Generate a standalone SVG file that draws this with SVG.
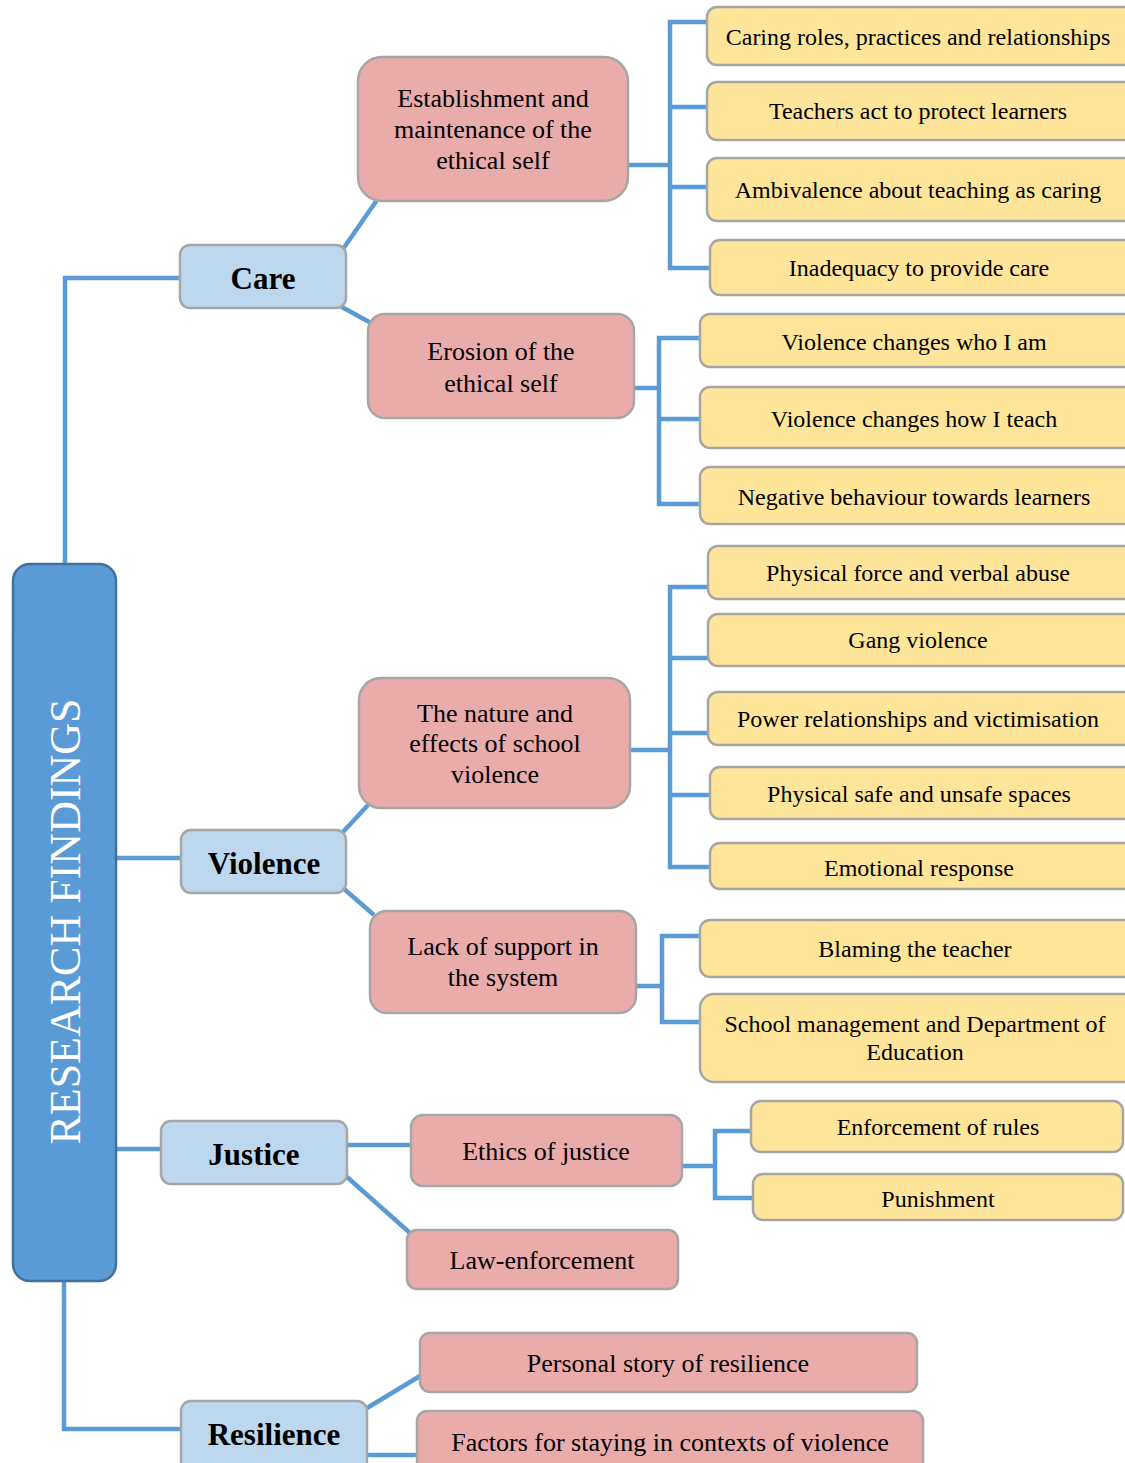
<svg xmlns="http://www.w3.org/2000/svg" width="1125" height="1463" viewBox="0 0 1125 1463">
<style>
.c{fill:none;stroke:#5B9BD5;stroke-width:4.5;stroke-linejoin:miter}
.root{fill:#5B9BD5;stroke:#41719C;stroke-width:2.5}
.cat{fill:#BDD7EE;stroke:#A6A6A6;stroke-width:2.5}
.pk{fill:#EAABAB;stroke:#A6A6A6;stroke-width:2.5}
.lf{fill:#FFE599;stroke:#A6A6A6;stroke-width:2.5}
text{font-family:"Liberation Serif","Times New Roman",serif;fill:#000;text-anchor:middle}
.rt{font-size:44px;fill:#FFFFFF}
.ct{font-size:31px;font-weight:bold}
.pt{font-size:26px}
.lt{font-size:24px}
</style>
<rect width="1125" height="1463" fill="#FFFFFF"/>
<g id="connectors">
<polyline class="c" points="65,566 65,278 180,278"/>
<polyline class="c" points="116,858 181,858"/>
<polyline class="c" points="116,1149 161,1149"/>
<polyline class="c" points="64,1279 64,1429 181,1429"/>
<line class="c" x1="343" y1="249" x2="377" y2="200"/>
<line class="c" x1="340" y1="306" x2="371" y2="323"/>
<line class="c" x1="343" y1="832" x2="368" y2="805"/>
<line class="c" x1="343" y1="888" x2="374" y2="915"/>
<line class="c" x1="347" y1="1145" x2="411" y2="1145"/>
<line class="c" x1="347" y1="1177" x2="410" y2="1233"/>
<line class="c" x1="367" y1="1408" x2="420" y2="1376"/>
<line class="c" x1="367" y1="1455" x2="418" y2="1455"/>
<polyline class="c" points="628,165 670,165"/>
<polyline class="c" points="708,22 670,22 670,268 710,268"/>
<polyline class="c" points="670,107 708,107"/>
<polyline class="c" points="670,187 708,187"/>
<polyline class="c" points="634,388 659,388"/>
<polyline class="c" points="700,338 659,338 659,504 700,504"/>
<polyline class="c" points="659,419 700,419"/>
<polyline class="c" points="630,750 670,750"/>
<polyline class="c" points="708,587 670,587 670,867 710,867"/>
<polyline class="c" points="670,658 708,658"/>
<polyline class="c" points="670,733 708,733"/>
<polyline class="c" points="670,795 710,795"/>
<polyline class="c" points="636,986 662,986"/>
<polyline class="c" points="700,936 662,936 662,1022 700,1022"/>
<polyline class="c" points="682,1166 715,1166"/>
<polyline class="c" points="751,1131 715,1131 715,1198 753,1198"/>
</g>
<g id="root">
<rect class="root" x="13" y="564" width="103" height="717" rx="17"/>
<text class="rt" transform="translate(80,921.5) rotate(-90)">RESEARCH FINDINGS</text>
</g>
<g id="care">
<rect class="cat" x="180" y="245" width="166" height="63" rx="10"/>
<text class="ct" x="263" y="289">Care</text>
</g>
<g id="violence">
<rect class="cat" x="181" y="830" width="165" height="63" rx="10"/>
<text class="ct" x="264" y="874">Violence</text>
</g>
<g id="justice">
<rect class="cat" x="161" y="1121" width="186" height="63" rx="10"/>
<text class="ct" x="254" y="1165">Justice</text>
</g>
<g id="resilience">
<rect class="cat" x="181" y="1401" width="186" height="75" rx="10"/>
<text class="ct" x="274" y="1445">Resilience</text>
</g>
<g id="establishment">
<rect class="pk" x="358" y="57" width="270" height="144" rx="24"/>
<text class="pt" x="493" y="107">Establishment and</text>
<text class="pt" x="493" y="138">maintenance of the</text>
<text class="pt" x="493" y="169">ethical self</text>
</g>
<g id="erosion">
<rect class="pk" x="368" y="314" width="266" height="104" rx="17"/>
<text class="pt" x="501" y="360">Erosion of the</text>
<text class="pt" x="501" y="392">ethical self</text>
</g>
<g id="nature">
<rect class="pk" x="359" y="678" width="271" height="130" rx="22"/>
<text class="pt" x="495" y="722">The nature and</text>
<text class="pt" x="495" y="752">effects of school</text>
<text class="pt" x="495" y="783">violence</text>
</g>
<g id="lack">
<rect class="pk" x="370" y="911" width="266" height="102" rx="17"/>
<text class="pt" x="503" y="955">Lack of support in</text>
<text class="pt" x="503" y="986">the system</text>
</g>
<g id="ethics">
<rect class="pk" x="411" y="1115" width="271" height="71" rx="12"/>
<text class="pt" x="546" y="1160">Ethics of justice</text>
</g>
<g id="law">
<rect class="pk" x="407" y="1230" width="271" height="59" rx="10"/>
<text class="pt" x="542" y="1269">Law-enforcement</text>
</g>
<g id="personal">
<rect class="pk" x="420" y="1333" width="497" height="59" rx="10"/>
<text class="pt" x="668" y="1372">Personal story of resilience</text>
</g>
<g id="factors">
<rect class="pk" x="417" y="1411" width="506" height="70" rx="10"/>
<text class="pt" x="670" y="1451">Factors for staying in contexts of violence</text>
</g>
<g id="leaf-caring">
<rect class="lf" x="707" y="7" width="430" height="58" rx="10"/>
<text class="lt" x="918" y="45">Caring roles, practices and relationships</text>
</g>
<g id="leaf-teachers">
<rect class="lf" x="707" y="82" width="430" height="58" rx="10"/>
<text class="lt" x="918" y="119">Teachers act to protect learners</text>
</g>
<g id="leaf-ambivalence">
<rect class="lf" x="707" y="158" width="430" height="63" rx="10"/>
<text class="lt" x="918" y="198">Ambivalence about teaching as caring</text>
</g>
<g id="leaf-inadequacy">
<rect class="lf" x="710" y="240" width="430" height="55" rx="10"/>
<text class="lt" x="919" y="276">Inadequacy to provide care</text>
</g>
<g id="leaf-who">
<rect class="lf" x="700" y="314" width="440" height="53" rx="10"/>
<text class="lt" x="914" y="350">Violence changes who I am</text>
</g>
<g id="leaf-how">
<rect class="lf" x="700" y="387" width="440" height="61" rx="10"/>
<text class="lt" x="914" y="427">Violence changes how I teach</text>
</g>
<g id="leaf-negative">
<rect class="lf" x="700" y="467" width="440" height="57" rx="10"/>
<text class="lt" x="914" y="505">Negative behaviour towards learners</text>
</g>
<g id="leaf-physical">
<rect class="lf" x="708" y="546" width="430" height="53" rx="10"/>
<text class="lt" x="918" y="581">Physical force and verbal abuse</text>
</g>
<g id="leaf-gang">
<rect class="lf" x="708" y="614" width="430" height="52" rx="10"/>
<text class="lt" x="918" y="648">Gang violence</text>
</g>
<g id="leaf-power">
<rect class="lf" x="708" y="692" width="430" height="53" rx="10"/>
<text class="lt" x="918" y="727">Power relationships and victimisation</text>
</g>
<g id="leaf-spaces">
<rect class="lf" x="710" y="767" width="430" height="52" rx="10"/>
<text class="lt" x="919" y="802">Physical safe and unsafe spaces</text>
</g>
<g id="leaf-emotional">
<rect class="lf" x="710" y="843" width="430" height="46" rx="10"/>
<text class="lt" x="919" y="876">Emotional response</text>
</g>
<g id="leaf-blaming">
<rect class="lf" x="700" y="920" width="440" height="57" rx="10"/>
<text class="lt" x="915" y="957">Blaming the teacher</text>
</g>
<g id="leaf-school">
<rect class="lf" x="700" y="994" width="440" height="88" rx="14"/>
<text class="lt" x="915" y="1032">School management and Department of</text>
<text class="lt" x="915" y="1060">Education</text>
</g>
<g id="leaf-enforcement">
<rect class="lf" x="751" y="1101" width="372" height="51" rx="10"/>
<text class="lt" x="938" y="1135">Enforcement of rules</text>
</g>
<g id="leaf-punishment">
<rect class="lf" x="753" y="1174" width="370" height="46" rx="10"/>
<text class="lt" x="938" y="1207">Punishment</text>
</g>
</svg>
